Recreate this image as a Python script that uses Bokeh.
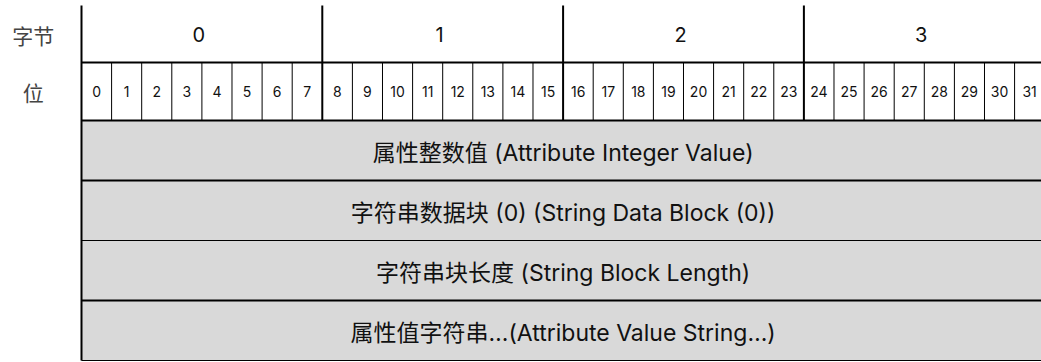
from bokeh.plotting import figure
from bokeh.models import Range1d
from bokeh.embed import file_html
from bokeh.resources import INLINE
from bokeh.core.properties import value

# ---- data ----
header_labels = ["字节", "位"]
byte_labels = ["0", "1", "2", "3"]
bit_labels = ["0", "1", "2", "3", "4", "5", "6", "7",
              "8", "9", "10", "11", "12", "13", "14", "15",
              "16", "17", "18", "19", "20", "21", "22", "23",
              "24", "25", "26", "27", "28", "29", "30", "31"]
field_labels = [
    "属性整数值 (Attribute Integer Value)",
    "字符串数据块 (0) (String Data Block (0))",
    "字符串块长度 (String Block Length)",
    "属性值字符串…(Attribute Value String…)",
]

# ---- layout (bits horizontally, pixel units vertically) ----
BITS_PER_BYTE = 8
n_bits = len(bit_labels)
Y_TOP = 0
Y_BYTE = -57
Y_BIT = -115
ROW_H = 60
FONT = "Inter, Noto Sans CJK SC"
CJK = "Noto Sans CJK SC"
FILL = "#d9d9d9"

p = figure(width=1041, height=362, output_backend="svg", toolbar_location=None,
           x_range=Range1d(-2.691, 31.894), y_range=Range1d(-357, 5),
           min_border=0, outline_line_color=None, background_fill_color="white")
p.axis.visible = False
p.grid.visible = False

# field rows
tops = [Y_BIT - i * ROW_H for i in range(len(field_labels))]
bots = [t - ROW_H for t in tops]
p.quad(left=0, right=n_bits, top=tops, bottom=bots, fill_color=FILL, line_color=None)
y_bottom = bots[-1]

# horizontal lines
p.segment(x0=0, x1=n_bits, y0=Y_BYTE, y1=Y_BYTE, line_color="black", line_width=2)
p.segment(x0=0, x1=n_bits, y0=Y_BIT, y1=Y_BIT, line_color="black", line_width=2)
row_lw = [2, 1.2, 2, 1.2]
for b, lw in zip(bots, row_lw):
    p.segment(x0=0, x1=n_bits, y0=b, y1=b, line_color="black", line_width=lw)

# left border
p.segment(x0=0, x1=0, y0=Y_TOP, y1=y_bottom, line_color="black", line_width=2)

# byte separators
bx = [i * BITS_PER_BYTE for i in range(1, len(byte_labels))]
p.segment(x0=bx, x1=bx, y0=Y_TOP, y1=Y_BIT, line_color="black", line_width=2)

# bit separators
tx = [i for i in range(1, n_bits) if i % BITS_PER_BYTE != 0]
p.segment(x0=tx, x1=tx, y0=Y_BYTE, y1=Y_BIT, line_color="black", line_width=1)

# texts
p.text(x=[-1.6, -1.6], y=[(Y_TOP + Y_BYTE) / 2 - 1, (Y_BYTE + Y_BIT) / 2], text=header_labels,
       text_font=value(CJK), text_font_size="21px", text_align="center",
       text_baseline="middle", text_color="#444444")
p.text(x=[i * BITS_PER_BYTE + BITS_PER_BYTE / 2 - 0.1 for i in range(len(byte_labels))],
       y=[(Y_TOP + Y_BYTE) / 2] * len(byte_labels), text=byte_labels,
       text_font=value(FONT), text_font_size="20px", text_align="center",
       text_baseline="middle", text_color="#111111")
p.text(x=[i + 0.5 for i in range(n_bits)], y=[(Y_BYTE + Y_BIT) / 2] * n_bits, text=bit_labels,
       text_font=value(FONT), text_font_size="14px", text_align="center",
       text_baseline="middle", text_color="#111111")
p.text(x=[n_bits / 2] * len(field_labels), y=[(t + b) / 2 - 2 for t, b in zip(tops, bots)],
       text=field_labels, text_font=value(FONT), text_font_size="23px", text_align="center",
       text_baseline="middle", text_color="#111111")

open("out.html", "w").write(file_html(p, INLINE))
